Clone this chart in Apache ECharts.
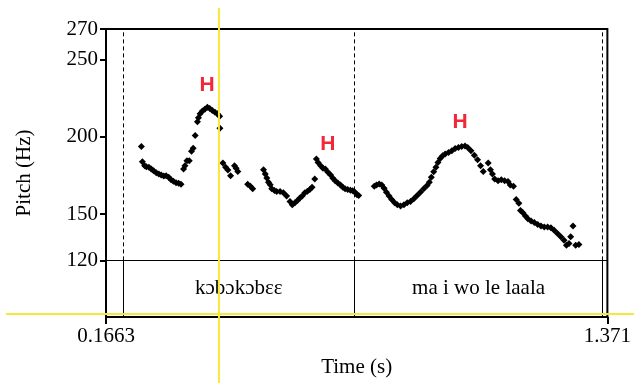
<!DOCTYPE html>
<html><head><meta charset="utf-8">
<script src="https://cdn.jsdelivr.net/npm/echarts@6/dist/echarts.min.js"></script>
<style>html,body{margin:0;padding:0;background:#fff}#c{width:634px;height:383px}</style>
</head><body><div id="c"></div>
<script>
// Pitch track (time in s, F0 in Hz)
const timeS = [0.2513,0.2537,0.2592,0.2632,0.2694,0.2751,0.2806,0.2870,0.2932,0.2989,0.3051,0.3108,0.3170,0.3227,0.3282,0.3346,0.3408,0.3465,
0.3527,0.3560,0.3608,0.3663,0.3718,0.3758,0.3806,0.3860,0.3884,0.3925,0.3980,0.4037,0.4099,0.4156,0.4218,0.4282,0.4337,0.4394,0.4401,
0.4472,0.4537,0.4591,0.4656,0.4751,0.4789,0.4830,0.5068,0.5132,0.5187,
0.5448,0.5489,0.5527,0.5567,0.5608,0.5646,0.5710,0.5765,0.5846,0.5925,0.6003,0.6084,0.6139,0.6203,0.6265,0.6322,0.6377,0.6441,0.6503,0.6560,0.6615,0.6679,
0.6718,0.6758,0.6822,0.6877,0.6932,0.6996,0.7060,0.7115,0.7170,0.7234,0.7298,0.7353,0.7408,0.7472,0.7536,0.7591,0.7646,0.7694,0.7734,
0.8108,0.8163,0.8227,0.8289,0.8346,0.8401,0.8465,0.8527,0.8598,0.8663,0.8741,0.8822,0.8901,0.8979,0.9060,0.9139,0.9217,0.9298,0.9377,0.9431,0.9479,
0.9536,0.9591,0.9639,0.9693,0.9751,0.9813,0.9894,0.9972,1.0051,1.0132,1.0210,1.0289,1.0353,1.0432,1.0513,1.0591,1.0663,1.0727,
1.0846,1.0900,1.0948,1.1003,1.1084,1.1162,1.1241,1.1322,1.1376,1.1455,
1.1519,1.1583,1.1622,1.1679,1.1741,1.1798,1.1877,1.1955,1.2036,1.2115,1.2193,1.2274,1.2352,1.2431,1.2512,1.2591,1.2669,1.2726,1.2788,1.2829,1.2884,1.2948,1.3027];
const pitchHz = [193.8,183.9,181.4,180.7,180.3,179.2,178.1,176.8,176.0,175.4,174.7,174.9,173.9,172.3,171.3,170.4,170.0,169.4,
179.2,181.4,184.6,184.6,190.8,192.7,200.9,209.9,212.5,215.1,216.8,218.0,219.3,218.5,217.2,216.1,215.1,213.5,205.6,
183.1,180.3,178.6,174.9,181.4,179.7,177.7,169.3,168.0,166.4,
178.8,176.0,173.4,170.7,169.1,166.4,165.3,164.6,164.6,163.8,161.7,158.2,156.1,157.3,158.8,160.4,161.7,163.8,164.9,165.9,167.4,172.8,
185.7,183.5,181.4,179.7,179.2,177.1,175.4,173.2,171.7,170.2,168.9,167.4,166.4,165.9,165.5,165.1,164.2,162.5,162.0,
168.1,168.9,169.6,168.9,166.8,164.2,161.7,159.5,157.3,156.1,155.2,156.1,157.3,158.2,159.9,162.0,164.2,166.4,168.5,170.7,173.9,
177.5,180.3,183.5,186.1,187.8,188.9,190.0,191.0,192.6,193.2,193.8,194.2,193.2,191.0,188.2,185.2,181.4,177.7,
183.1,178.8,176.0,172.8,171.7,172.3,171.7,171.1,168.9,168.1,
159.5,157.1,152.4,150.9,148.8,147.0,145.6,144.5,143.2,142.3,141.7,141.7,141.1,139.5,137.4,135.3,133.1,129.8,130.9,135.3,142.3,129.8,130.3];

const yTicks = [120, 150, 200, 250, 270];
const xTicks = [0.1663, 1.371];
const tierBounds = [0.2068, 0.7639, 1.3591];
const tierLabels = ['kɔbɔkɔbɛɛ', 'ma i wo le laala'];
const hTimes = [0.4091, 0.6996, 1.0170];
const hPitch = [233.6, 195.6, 209.3];
const hLabels = ['H', 'H', 'H'];
const cursorTime = 0.4377;
const cursorHz = 85.2;

const xMin = 0.1663, xMax = 1.371, yMin = 83.3, yMax = 270, tierTop = 120;

const chart = echarts.init(document.getElementById('c'));
const serif = '"Liberation Serif","Times New Roman",serif';

const lines = [[{coord:[xMin,tierTop]},{coord:[xMax,tierTop]}]];
tierBounds.forEach(b => {
  lines.push([{coord:[b,tierTop],lineStyle:{type:[4,3]}},{coord:[b,yMax]}]);
  lines.push([{coord:[b,yMin]},{coord:[b,tierTop]}]);
});

const tierData = tierLabels.map((t,i) => [(tierBounds[i]+tierBounds[i+1])/2, (yMin+tierTop)/2, t]);
const hData = hLabels.map((t,i) => [hTimes[i], hPitch[i], t]);

chart.setOption({
  animation: false,
  grid: {left:106, top:29, width:506, height:290, show:true, borderColor:'#000', borderWidth:2, backgroundColor:'transparent'},
  xAxis: {
    type:'value', min:xMin, max:xMax,
    name:'Time (s)', nameLocation:'middle', nameGap:40,
    nameTextStyle:{fontFamily:serif, fontSize:21, color:'#000'},
    axisLine:{show:true, lineStyle:{color:'#000', width:2}},
    axisTick:{show:true, customValues:xTicks, length:7, lineStyle:{color:'#000', width:2}},
    axisLabel:{customValues:xTicks, formatter:v=>String(v), fontFamily:serif, fontSize:21, color:'#000', margin:9},
    splitLine:{show:false}
  },
  yAxis: {
    type:'value', min:yMin, max:yMax,
    name:'Pitch (Hz)', nameLocation:'middle', nameGap:71, nameRotate:90,
    nameTextStyle:{fontFamily:serif, fontSize:21, color:'#000'},
    axisLine:{show:true, lineStyle:{color:'#000', width:2}},
    axisTick:{show:true, customValues:yTicks, length:6, lineStyle:{color:'#000', width:2}},
    axisLabel:{customValues:yTicks, fontFamily:serif, fontSize:21, color:'#000', margin:8},
    splitLine:{show:false}
  },
  series: [
    {
      type:'scatter', symbol:'diamond', symbolSize:7,
      itemStyle:{color:'#000', opacity:1},
      data: timeS.map((t,i)=>[t, pitchHz[i]]),
      markLine:{silent:true, symbol:'none', label:{show:false},
        lineStyle:{color:'#000', width:1, type:'solid'}, data:lines}
    },
    {
      type:'scatter', symbolSize:0, data:tierData, silent:true, itemStyle:{opacity:1},
      label:{show:true, position:'inside', formatter:p=>p.data[2], fontFamily:serif, fontSize:21, color:'#000'}
    },
    {
      type:'scatter', symbolSize:0, data:hData, silent:true, itemStyle:{opacity:1},
      label:{show:true, position:'inside', formatter:p=>p.data[2], fontFamily:'"Liberation Sans",Arial,sans-serif', fontWeight:'bold', fontSize:21, color:'#f0283a'}
    }
  ]
});

const p = chart.convertToPixel({gridIndex:0}, [cursorTime, cursorHz]);
chart.setOption({graphic:[
  {type:'line', z:100, shape:{x1:p[0], y1:8, x2:p[0], y2:383}, style:{stroke:'#f6e83a', lineWidth:2}},
  {type:'line', z:100, shape:{x1:6, y1:p[1], x2:634, y2:p[1]}, style:{stroke:'#f6e83a', lineWidth:2}}
]});
</script></body></html>
